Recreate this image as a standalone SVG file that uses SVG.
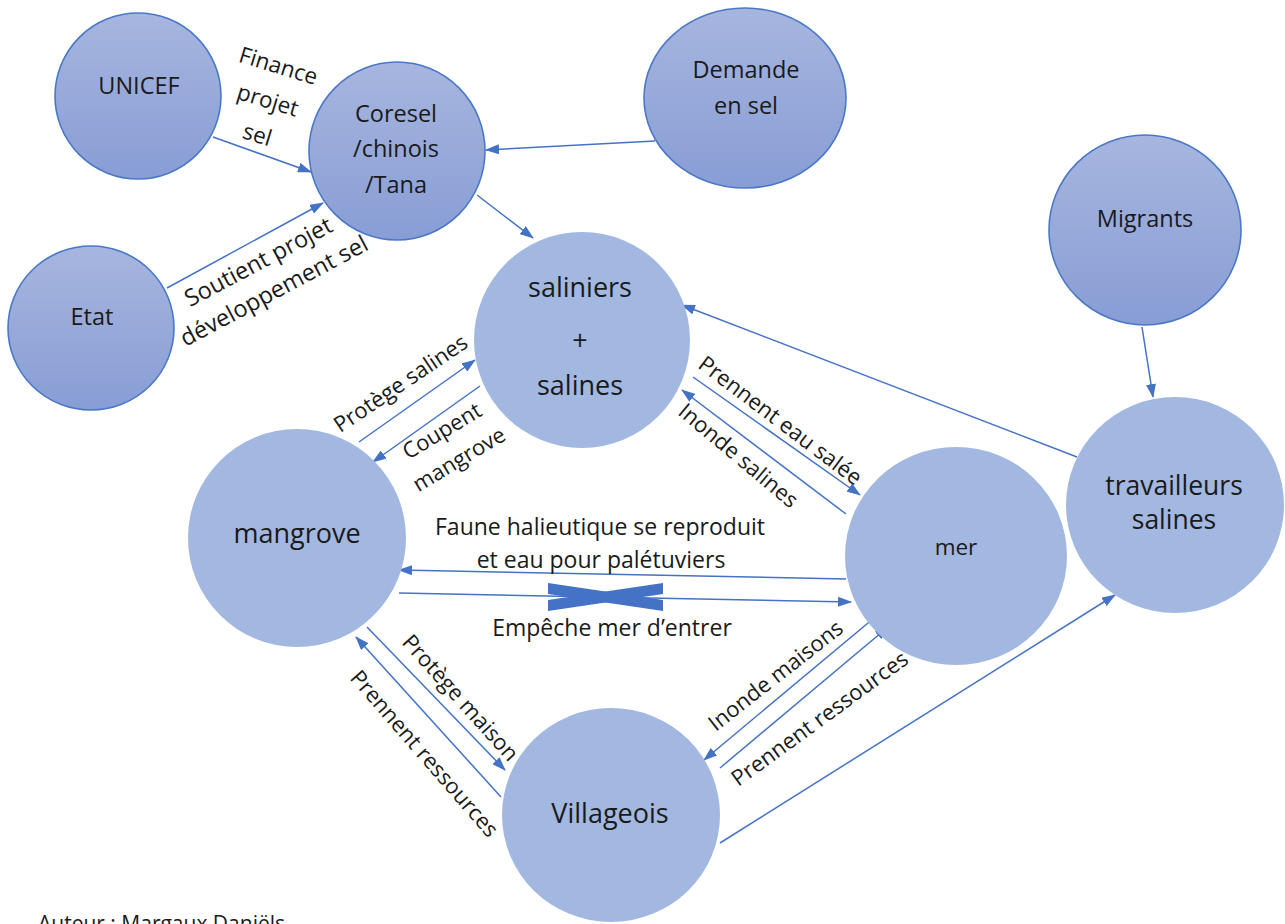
<svg xmlns="http://www.w3.org/2000/svg" width="1285" height="924" viewBox="0 0 1285 924">
  <style>
    .lbl { font-family: "Open Sans", "Liberation Sans", sans-serif; font-size: 22px; fill: #1a1a1a; }
    .hz { font-size: 23px; text-anchor: middle; }
    .mid { text-anchor: middle; }
    .ntxt { font-family: "Open Sans", "Liberation Sans", sans-serif; fill: #1a1a1a; text-anchor: middle; }
    .top { font-size: 23.5px; }
    .big { font-size: 27px; }
    .conn { stroke: #4472C4; stroke-width: 1.5; fill: none; marker-end: url(#arr); }
    .actor { fill: url(#gradTop); stroke: #4A78C8; stroke-width: 1.6; }
    .place { fill: #A2B8E0; }
  </style>
  <defs>
    <linearGradient id="gradTop" x1="0" y1="0" x2="0" y2="1">
      <stop offset="0" stop-color="#A7B6DF"/>
      <stop offset="1" stop-color="#889DD5"/>
    </linearGradient>
    <marker id="arr" markerUnits="userSpaceOnUse" viewBox="0 0 14 10" markerWidth="14" markerHeight="10" refX="13" refY="5" orient="auto">
      <path d="M0,0 L14,5 L0,10 z" fill="#4472C4"/>
    </marker>
  </defs>

  <rect width="1285" height="924" fill="#ffffff"/>

  <!-- connectors -->
  <g id="connectors">
    <line class="conn" x1="213" y1="137" x2="311" y2="172"/>
    <line class="conn" x1="167" y1="288" x2="323" y2="203"/>
    <line class="conn" x1="655" y1="141" x2="486" y2="150"/>
    <line class="conn" x1="477" y1="195" x2="533" y2="238"/>
    <line class="conn" x1="1142" y1="327" x2="1153" y2="397"/>
    <line class="conn" x1="1077" y1="457" x2="682" y2="305"/>
    <line class="conn" x1="359" y1="442" x2="475" y2="360"/>
    <line class="conn" x1="480" y1="386" x2="373" y2="462"/>
    <line class="conn" x1="693" y1="377" x2="860" y2="495"/>
    <line class="conn" x1="846" y1="514" x2="682" y2="390"/>
    <line class="conn" x1="846" y1="579" x2="399" y2="570"/>
    <line class="conn" x1="399" y1="593" x2="851" y2="602"/>
    <line class="conn" x1="367" y1="627" x2="505" y2="770"/>
    <line class="conn" x1="501" y1="797" x2="356" y2="637"/>
    <line class="conn" x1="874" y1="618" x2="704" y2="760"/>
    <line class="conn" x1="720" y1="768" x2="888" y2="627"/>
    <line class="conn" x1="720" y1="843" x2="1115" y2="595"/>
    <!-- blocked flow cross -->
    <g id="cross" fill="#4472C4">
      <polygon points="548,583 548,594 663,611 663,600"/>
      <polygon points="548,600 548,611 663,594 663,583"/>
    </g>
  </g>

  <!-- connector labels -->
  <g id="labels">
    <g transform="translate(268,100) rotate(17)">
      <text class="lbl mid" style="font-size:22.5px" x="0" y="-28">Finance</text>
      <text class="lbl mid" style="font-size:22.5px" x="0" y="8">projet</text>
      <text class="lbl mid" style="font-size:22.5px" x="0" y="44">sel</text>
    </g>
    <g transform="translate(266,276) rotate(-28)">
      <text class="lbl mid" style="font-size:23.5px" x="0" y="-8">Soutient projet</text>
      <text class="lbl mid" style="font-size:23.5px" x="0" y="25">développement sel</text>
    </g>
    <text class="lbl mid" transform="translate(401,384) rotate(-34)" x="0" y="7">Protège salines</text>
    <g transform="translate(451,446) rotate(-31)">
      <text class="lbl mid" x="0" y="-10">Coupent</text>
      <text class="lbl mid" x="0" y="23">mangrove</text>
    </g>
    <text class="lbl mid" transform="translate(780,421) rotate(37)" x="0" y="7">Prennent eau salée</text>
    <text class="lbl mid" transform="translate(738,456) rotate(40)" x="0" y="7">Inonde salines</text>
    <text class="lbl hz" x="600" y="535">Faune halieutique se reproduit</text>
    <text class="lbl hz" x="601" y="568">et eau pour palétuviers</text>
    <text class="lbl hz" x="612" y="636">Empêche mer d’entrer</text>
    <text class="lbl" transform="translate(401,643) rotate(48)" x="0" y="0">Protège maison</text>
    <text class="lbl mid" transform="translate(424,754) rotate(49)" x="0" y="7">Prennent ressources</text>
    <text class="lbl mid" transform="translate(776,676) rotate(-38)" x="0" y="7">Inonde maisons</text>
    <text class="lbl mid" transform="translate(820,719) rotate(-36)" x="0" y="7">Prennent ressources</text>
  </g>

  <!-- actor nodes -->
  <g id="unicef">
    <ellipse class="actor" cx="138" cy="96" rx="83" ry="83"/>
    <text class="ntxt top" x="139" y="94">UNICEF</text>
  </g>
  <g id="coresel">
    <ellipse class="actor" cx="397" cy="151" rx="88" ry="89"/>
    <text class="ntxt top" x="396" y="122">Coresel</text>
    <text class="ntxt top" x="396" y="157">/chinois</text>
    <text class="ntxt top" x="396" y="193">/Tana</text>
  </g>
  <g id="etat">
    <ellipse class="actor" cx="91" cy="328" rx="83" ry="82"/>
    <text class="ntxt top" x="92" y="325">Etat</text>
  </g>
  <g id="demande">
    <ellipse class="actor" cx="745" cy="98" rx="101" ry="90"/>
    <text class="ntxt top" x="746" y="78">Demande</text>
    <text class="ntxt top" x="746" y="114">en sel</text>
  </g>
  <g id="migrants">
    <ellipse class="actor" cx="1145" cy="230" rx="96" ry="95"/>
    <text class="ntxt top" x="1145" y="227">Migrants</text>
  </g>

  <!-- place / group nodes -->
  <g id="saliniers">
    <ellipse class="place" cx="582" cy="340" rx="108" ry="108"/>
    <text class="ntxt big" x="580" y="297">saliniers</text>
    <text class="ntxt big" x="580" y="350">+</text>
    <text class="ntxt big" x="580" y="395">salines</text>
  </g>
  <g id="mangrove">
    <ellipse class="place" cx="297" cy="538" rx="109" ry="109"/>
    <text class="ntxt big" x="297" y="543">mangrove</text>
  </g>
  <g id="mer">
    <ellipse class="place" cx="956" cy="556" rx="111" ry="109"/>
    <text class="ntxt" style="font-size:22.5px" x="956" y="555">mer</text>
  </g>
  <g id="travailleurs">
    <ellipse class="place" cx="1175" cy="505" rx="109" ry="108"/>
    <text class="ntxt" style="font-size:26.5px" x="1174" y="495">travailleurs</text>
    <text class="ntxt" style="font-size:26.5px" x="1174" y="529">salines</text>
  </g>
  <g id="villageois">
    <ellipse class="place" cx="611" cy="815" rx="109" ry="107"/>
    <text class="ntxt big" x="610" y="823">Villageois</text>
  </g>

  <text class="lbl" style="font-size:21px" x="38" y="931">Auteur : Margaux Daniëls</text>
</svg>
